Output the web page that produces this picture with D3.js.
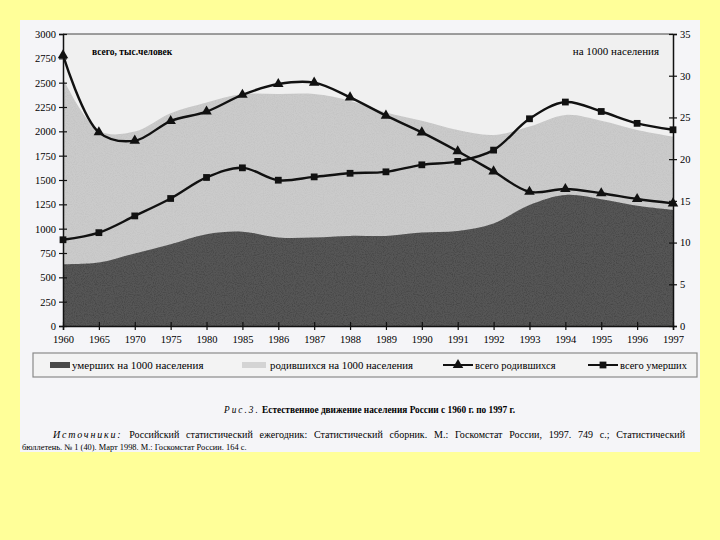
<!DOCTYPE html>
<html>
<head>
<meta charset="utf-8">
<script src="https://cdn.jsdelivr.net/npm/d3@7"></script>
<style>
  body { margin: 0; background: #ffff99; }
  svg { display: block; }
  text { font-family: "Liberation Serif", "DejaVu Serif", serif; fill: #000; }
</style>
</head>
<body>
<div id="chart"></div>
<script>
// Data
const years = ["1960", "1965", "1970", "1975", "1980", "1985", "1986", "1987", "1988",
  "1989", "1990", "1991", "1992", "1993", "1994", "1995", "1996", "1997"];
// всего родившихся, тыс. человек
const birthsTotal = [2782, 1990, 1904, 2106, 2203, 2375, 2486, 2500, 2349,
  2161, 1989, 1795, 1588, 1379, 1408, 1364, 1305, 1260];
// всего умерших, тыс. человек
const deathsTotal = [886, 959, 1131, 1310, 1526, 1625, 1498, 1532, 1569,
  1584, 1656, 1691, 1807, 2129, 2301, 2204, 2082, 2016];
// умерших на 1000 населения
const deathRate = [7.4, 7.6, 8.7, 9.8, 11.0, 11.3, 10.6, 10.6, 10.8,
  10.8, 11.2, 11.4, 12.3, 14.5, 15.7, 15.2, 14.4, 13.9];
// родившихся на 1000 населения (drawn stacked on the death rate)
const birthRate = [22.3, 15.8, 14.6, 15.7, 15.8, 16.5, 17.2, 17.2, 16.2,
  14.8, 13.4, 12.1, 10.6, 9.4, 9.6, 9.4, 9.1, 8.8];
const leftTicks = [0, 250, 500, 750, 1000, 1250, 1500, 1750, 2000, 2250, 2500, 2750, 3000];
const rightTicks = [0, 5, 10, 15, 20, 25, 30, 35];

const width = 720;
const height = 540;
const marginLeft = 63;
const marginRight = 47;
const marginTop = 34;
const plotBottom = 326;
const chartWidth = width - marginLeft - marginRight;
const chartHeight = plotBottom - marginTop;

const rows = years.map((y, i) => ({
  year: y,
  births: birthsTotal[i],
  deaths: deathsTotal[i],
  dr: deathRate[i],
  br: deathRate[i] + birthRate[i]
}));

const svg = d3.select("#chart")
  .append("svg")
  .attr("width", width)
  .attr("height", height);

// photocopy grain
const defs = svg.append("defs");
function grainFilter(id, strength, seed) {
  const f = defs.append("filter").attr("id", id)
    .attr("x", 0).attr("y", 0).attr("width", 1).attr("height", 1);
  f.append("feTurbulence").attr("type", "fractalNoise")
    .attr("baseFrequency", 0.9).attr("numOctaves", 2).attr("seed", seed).attr("result", "noise");
  f.append("feColorMatrix").attr("in", "noise").attr("type", "matrix")
    .attr("values", `0 0 0 0 0  0 0 0 0 0  0 0 0 0 0  0 0 0 ${strength} ${-strength * 0.4}`)
    .attr("result", "dots");
  f.append("feComposite").attr("in", "dots").attr("in2", "SourceGraphic")
    .attr("operator", "in").attr("result", "dotsIn");
  f.append("feMerge").call(m => {
    m.append("feMergeNode").attr("in", "SourceGraphic");
    m.append("feMergeNode").attr("in", "dotsIn");
  });
}
grainFilter("grain", 0.8, 3);
grainFilter("grainLight", 0.18, 5);

// paper sheet
svg.append("rect")
  .attr("x", 20).attr("y", 20)
  .attr("width", 680).attr("height", 432)
  .attr("fill", "#f5f5f8");

// Scales
const xScale = d3.scalePoint()
  .domain(years)
  .range([marginLeft, marginLeft + chartWidth]);

const yLeft = d3.scaleLinear()
  .domain([0, 3000])
  .range([plotBottom, marginTop]);

const yRight = d3.scaleLinear()
  .domain([0, 35])
  .range([plotBottom, marginTop]);

// plot background
svg.append("rect")
  .attr("x", marginLeft).attr("y", marginTop)
  .attr("width", chartWidth).attr("height", chartHeight)
  .attr("fill", "#f0f0f0");

// Areas (per 1000)
const curve = d3.curveCatmullRom.alpha(0.5);

svg.append("path")
  .datum(rows)
  .attr("fill", "#cbcbcb")
  .attr("filter", "url(#grainLight)")
  .attr("d", d3.area()
    .x(d => xScale(d.year))
    .y0(plotBottom)
    .y1(d => yRight(d.br))
    .curve(curve));

svg.append("path")
  .datum(rows)
  .attr("fill", "#575757")
  .attr("filter", "url(#grain)")
  .attr("d", d3.area()
    .x(d => xScale(d.year))
    .y0(plotBottom)
    .y1(d => yRight(d.dr))
    .curve(curve));

// frame top line
svg.append("line")
  .attr("x1", marginLeft).attr("x2", marginLeft + chartWidth)
  .attr("y1", marginTop).attr("y2", marginTop)
  .attr("stroke", "#444").attr("stroke-width", 1);

// Axes
const leftAxis = svg.append("g")
  .attr("transform", `translate(${marginLeft},0)`)
  .call(d3.axisLeft(yLeft).tickValues(leftTicks).tickFormat(d3.format("d"))
    .tickSize(4).tickPadding(3));

const rightAxis = svg.append("g")
  .attr("transform", `translate(${marginLeft + chartWidth},0)`)
  .call(d3.axisRight(yRight).tickValues(rightTicks).tickSize(4).tickPadding(3));

const bottomAxis = svg.append("g")
  .attr("transform", `translate(0,${plotBottom})`)
  .call(d3.axisBottom(xScale).tickSize(4).tickPadding(6));

[leftAxis, rightAxis, bottomAxis].forEach(ax => {
  ax.select(".domain").attr("stroke", "#111").attr("stroke-width", 1.5);
  ax.selectAll(".tick line").attr("stroke", "#111").attr("stroke-width", 1.2);
  ax.selectAll(".tick text")
    .style("font-family", "'Liberation Serif', serif")
    .style("font-size", "10.5px")
    .attr("fill", "#000");
});
// ticks cross the axis lines
leftAxis.selectAll(".tick line").attr("x1", 4);
rightAxis.selectAll(".tick line").attr("x1", -4);
bottomAxis.selectAll(".tick line").attr("y1", -4);

// Lines (thousands)
const lineGen = key => d3.line()
  .x(d => xScale(d.year))
  .y(d => yLeft(d[key]))
  .curve(curve);

svg.append("path")
  .datum(rows)
  .attr("fill", "none")
  .attr("stroke", "#111")
  .attr("stroke-width", 2.4)
  .attr("d", lineGen("births"));

svg.append("path")
  .datum(rows)
  .attr("fill", "none")
  .attr("stroke", "#111")
  .attr("stroke-width", 2.4)
  .attr("d", lineGen("deaths"));

const triangle = d3.symbol().type(d3.symbolTriangle).size(48);
const square = d3.symbol().type(d3.symbolSquare).size(46);

svg.append("g")
  .selectAll("path")
  .data(rows)
  .join("path")
  .attr("transform", d => `translate(${xScale(d.year)},${yLeft(d.births)})`)
  .attr("d", triangle)
  .attr("fill", "#111");

svg.append("g")
  .selectAll("path")
  .data(rows)
  .join("path")
  .attr("transform", d => `translate(${xScale(d.year)},${yLeft(d.deaths)})`)
  .attr("d", square)
  .attr("fill", "#111");

// unit labels inside the plot
svg.append("text")
  .attr("x", 92).attr("y", 55)
  .style("font-size", "9.5px")
  .style("font-weight", "bold")
  .text("всего, тыс.человек");

svg.append("text")
  .attr("x", 659).attr("y", 55)
  .attr("text-anchor", "end")
  .style("font-size", "11px")
  .text("на 1000 населения");

// Legend
const legend = svg.append("g");
legend.append("rect")
  .attr("x", 33).attr("y", 353)
  .attr("width", 664).attr("height", 24)
  .attr("fill", "#f3f3f3")
  .attr("stroke", "#8a8a8a")
  .attr("stroke-width", 1.2);

const legendY = 365;
legend.append("rect")
  .attr("x", 50).attr("y", legendY - 3)
  .attr("width", 20).attr("height", 6)
  .attr("fill", "#4a4a4a");
legend.append("text")
  .attr("x", 72).attr("y", legendY + 3.5)
  .style("font-size", "11px")
  .text("умерших на 1000 населения");

legend.append("rect")
  .attr("x", 242).attr("y", legendY - 3)
  .attr("width", 24).attr("height", 6)
  .attr("fill", "#d4d4d4");
legend.append("text")
  .attr("x", 270).attr("y", legendY + 3.5)
  .style("font-size", "10.8px")
  .text("родившихся на 1000 населения");

legend.append("line")
  .attr("x1", 443).attr("x2", 473)
  .attr("y1", legendY).attr("y2", legendY)
  .attr("stroke", "#111").attr("stroke-width", 2);
legend.append("path")
  .attr("transform", `translate(458,${legendY})`)
  .attr("d", triangle)
  .attr("fill", "#111");
legend.append("text")
  .attr("x", 475).attr("y", legendY + 3.5)
  .style("font-size", "10.5px")
  .text("всего родившихся");

legend.append("line")
  .attr("x1", 588).attr("x2", 618)
  .attr("y1", legendY).attr("y2", legendY)
  .attr("stroke", "#111").attr("stroke-width", 2);
legend.append("path")
  .attr("transform", `translate(603,${legendY})`)
  .attr("d", square)
  .attr("fill", "#111");
legend.append("text")
  .attr("x", 620).attr("y", legendY + 3.5)
  .style("font-size", "10.5px")
  .text("всего умерших");

// Caption and sources
const caption = svg.append("text")
  .attr("x", 224).attr("y", 413)
  .style("font-size", "9.3px");
caption.append("tspan")
  .style("font-style", "italic")
  .style("letter-spacing", "2px")
  .text("Рис.3.");
caption.append("tspan")
  .style("font-weight", "bold")
  .text(" Естественное движение населения России с 1960 г. по 1997 г.");

const src = svg.append("text")
  .attr("x", 53).attr("y", 438)
  .style("font-size", "10px");
src.append("tspan")
  .style("font-style", "italic")
  .style("letter-spacing", "1.8px")
  .text("Источники:");
const srcBody = src.append("tspan")
  .text(" Российский статистический ежегодник: Статистический сборник. М.: Госкомстат России, 1997. 749 с.; Статистический");

// justify the first source line like the printed page
const natural = src.node().getComputedTextLength();
const spaces = srcBody.text().split(" ").length - 1;
srcBody.style("word-spacing", `${Math.max(0, (685 - 53 - natural) / spaces)}px`);

svg.append("text")
  .attr("x", 22).attr("y", 450)
  .style("font-size", "8.4px")
  .text("бюллетень. № 1 (40). Март 1998. М.: Госкомстат России. 164 с.");
</script>
</body>
</html>
